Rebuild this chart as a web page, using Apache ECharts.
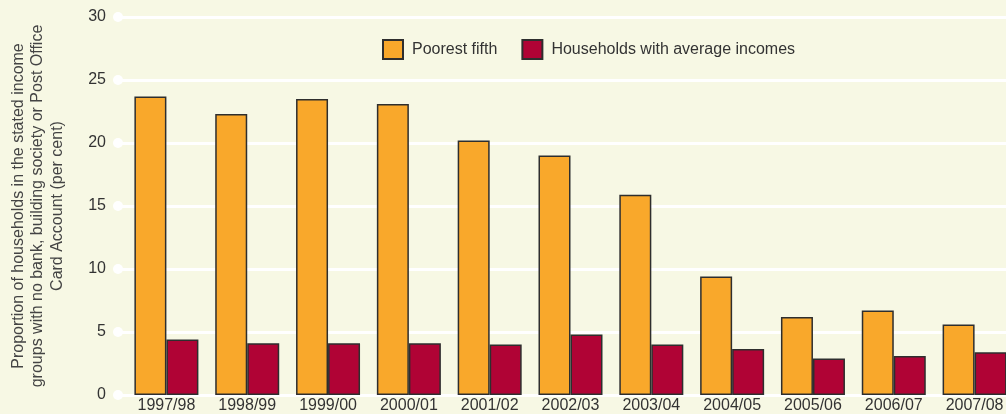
<!DOCTYPE html>
<html>
<head>
<meta charset="utf-8">
<script src="https://cdn.jsdelivr.net/npm/echarts@6/dist/echarts.min.js"></script>
<style>
html,body{margin:0;padding:0;background:#f7f8e4;}
#c{width:1006px;height:414px;}
</style>
</head>
<body>
<div id="c"></div>
<script>
const categories = ['1997/98','1998/99','1999/00','2000/01','2001/02','2002/03','2003/04','2004/05','2005/06','2006/07','2007/08'];
const poorestFifth = [23.7, 22.3, 23.5, 23.1, 20.2, 19.0, 15.9, 9.4, 6.2, 6.7, 5.6];
const averageIncomes = [4.4, 4.1, 4.1, 4.1, 4.0, 4.8, 4.0, 3.65, 2.9, 3.1, 3.4];
const seriesNames = ['Poorest fifth', 'Households with average incomes'];
const yTitle = 'Proportion of households in the stated income\ngroups with no bank, building society or Post Office\nCard Account (per cent)';

const chart = echarts.init(document.getElementById('c'), null, {renderer: 'canvas'});
const font = 'Liberation Sans, Arial, sans-serif';
chart.setOption({
  backgroundColor: '#f7f8e4',
  animation: false,
  textStyle: {fontFamily: font},
  legend: {
    left: 382, top: 39, padding: 0,
    itemWidth: 20, itemHeight: 19, itemGap: 24,
    icon: 'rect',
    textStyle: {fontSize: 16, color: '#333', fontFamily: font, padding: [0, 0, 0, 4]},
    data: seriesNames
  },
  grid: {left: 126, right: -9, top: 17, bottom: 19, containLabel: false, outerBoundsMode: 'none'},
  xAxis: {
    type: 'category',
    data: categories,
    axisLine: {show: false},
    axisTick: {show: false},
    axisLabel: {fontSize: 16, color: '#333', margin: 3, fontFamily: font, interval: 0}
  },
  yAxis: {
    type: 'value',
    min: 0, max: 30, interval: 5,
    axisLine: {show: false},
    axisTick: {show: true, inside: false, length: 8, lineStyle: {color: '#fff', width: 3}},
    splitLine: {show: true, lineStyle: {color: '#fff', width: 3}},
    axisLabel: {
      margin: 3,
      formatter: v => '{t|' + v + '}{d|}',
      rich: {
        t: {fontSize: 16, color: '#333', padding: [0, 7, 0, 0], fontFamily: font},
        d: {width: 10, height: 10, borderRadius: 5, backgroundColor: '#fff'}
      }
    },
    name: yTitle,
    nameLocation: 'middle',
    nameRotate: 90,
    nameGap: 59,
    nameTextStyle: {fontSize: 16, color: '#444', lineHeight: 19.5, align: 'center', fontFamily: font}
  },
  series: [
    {
      name: seriesNames[0], type: 'bar', data: poorestFifth,
      barWidth: 32, barGap: '0%',
      itemStyle: {color: '#f9a82b', borderColor: '#2e2e2e', borderWidth: 1.5}
    },
    {
      name: seriesNames[1], type: 'bar', data: averageIncomes,
      barWidth: 32, barGap: '0%',
      itemStyle: {color: '#b00335', borderColor: '#2e2e2e', borderWidth: 1.5}
    }
  ]
});
</script>
</body>
</html>
